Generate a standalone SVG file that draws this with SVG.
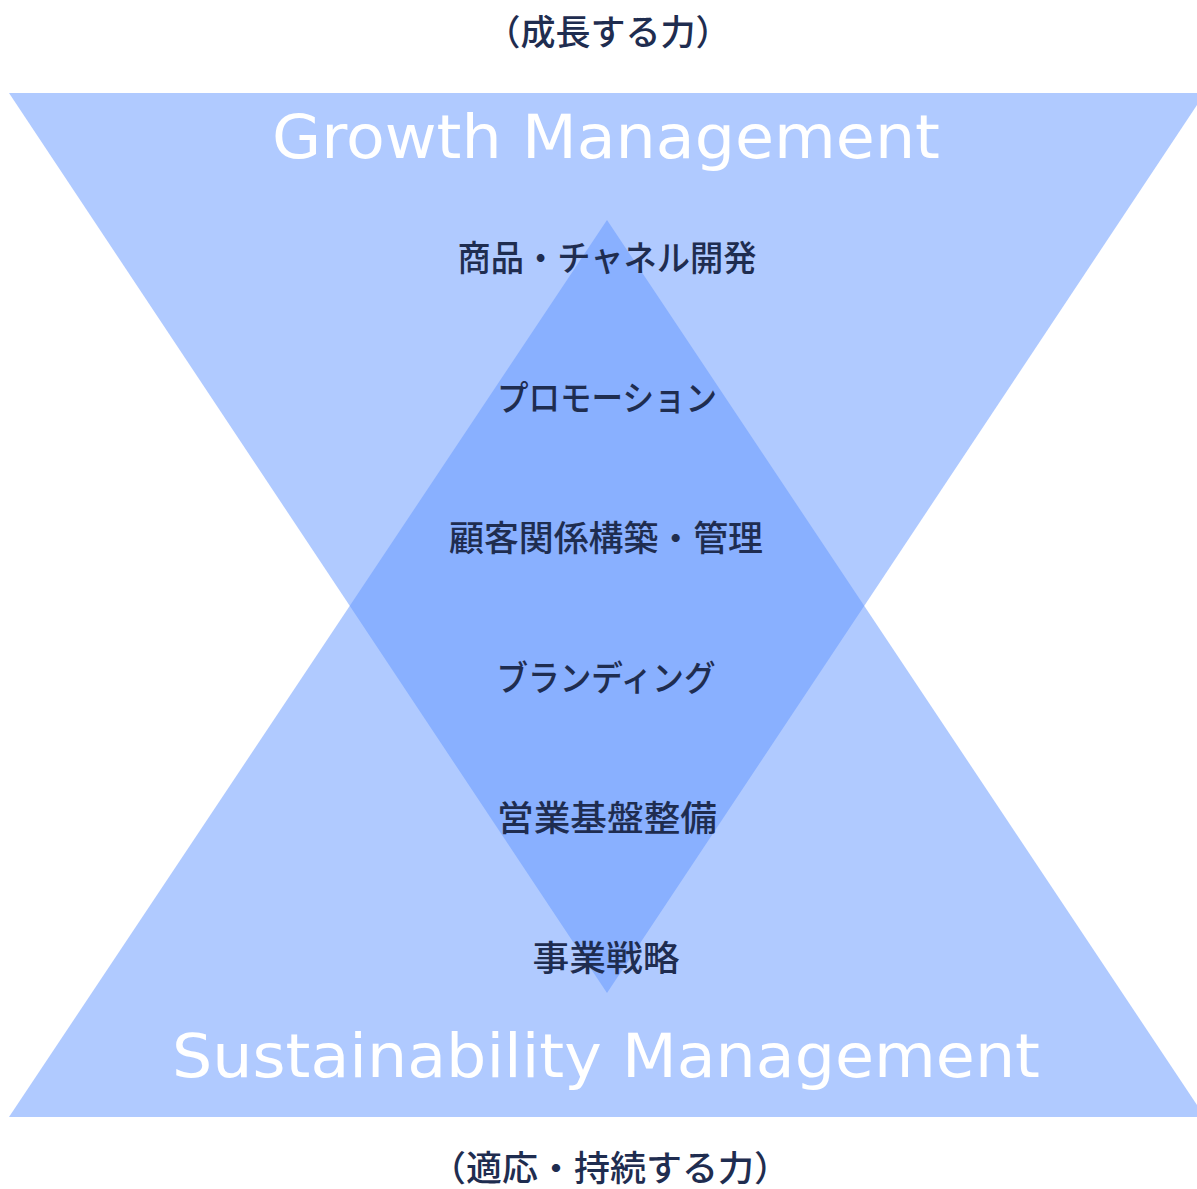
<svg xmlns="http://www.w3.org/2000/svg" width="1197" height="1189" viewBox="0 0 1197 1189">
<style>
.tri{fill:#6195ff;fill-opacity:0.5}
.en{font-family:"DejaVu Sans","Liberation Sans",sans-serif;fill:#ffffff;text-anchor:middle}
.jp{font-family:"Noto Sans CJK JP","Noto Sans",sans-serif;fill:#1f2d50;text-anchor:middle;font-size:35px;font-weight:500}
</style>
<rect width="1197" height="1189" fill="#ffffff"/>
<g id="growth-triangle">
<polygon class="tri" points="9,93 1205,93 607,993"/>
</g>
<g id="sustainability-triangle">
<polygon class="tri" points="9,1117 1205,1117 607,220"/>
</g>
<g id="titles">
<text class="en" x="606" y="158" font-size="60" textLength="668" lengthAdjust="spacingAndGlyphs">Growth Management</text>
<text class="en" x="606" y="1077" font-size="60" textLength="868" lengthAdjust="spacingAndGlyphs">Sustainability Management</text>
<text class="jp" x="608" y="45" textLength="245" lengthAdjust="spacingAndGlyphs">（成長する力）</text>
<text class="jp" x="610" y="1181" textLength="360" lengthAdjust="spacingAndGlyphs">（適応・持続する力）</text>
</g>
<g id="items">
<text class="jp" x="607" y="271" textLength="299" lengthAdjust="spacingAndGlyphs">商品・チャネル開発</text>
<text class="jp" x="607" y="411" textLength="220" lengthAdjust="spacingAndGlyphs">プロモーション</text>
<text class="jp" x="606" y="551" textLength="314" lengthAdjust="spacingAndGlyphs">顧客関係構築・管理</text>
<text class="jp" x="606" y="691" textLength="219" lengthAdjust="spacingAndGlyphs">ブランディング</text>
<text class="jp" x="607" y="831" textLength="220" lengthAdjust="spacingAndGlyphs">営業基盤整備</text>
<text class="jp" x="606" y="971" textLength="147" lengthAdjust="spacingAndGlyphs">事業戦略</text>
</g>
<g id="connectors"></g>
</svg>
